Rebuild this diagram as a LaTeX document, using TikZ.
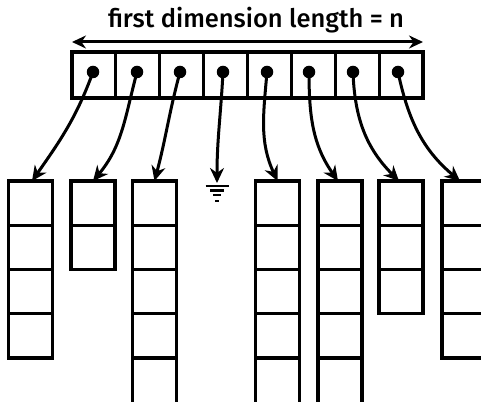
\documentclass[tikz,border=0pt]{standalone}
\usepackage{fontspec}
\setmainfont{Fira Sans}
\newfontfamily\titlefont{Fira Sans Medium}
\usetikzlibrary{arrows.meta}
\begin{document}
\begin{tikzpicture}[x=1pt,y=1pt,
  cell/.style={draw, line width=3.2pt, minimum width=44pt, minimum height=44.25pt, inner sep=0pt, outer sep=0pt},
  topcell/.style={draw, line width=3.2pt, minimum width=43.875pt, minimum height=46pt, inner sep=0pt, outer sep=0pt},
  dot/.style={circle, fill, inner sep=0pt, minimum size=12.5pt},
  ptr/.style={line width=3pt, -{Stealth[length=15pt,width=14pt]}},
  dim/.style={line width=3pt, {Stealth[length=14pt,width=13pt]}-{Stealth[length=14pt,width=13pt]}},
  openside/.style={line width=3.2pt},
  gnd/.style={line width=2.6pt}
]
\useasboundingbox (0,0) rectangle (481,401);
\clip (0,0) rectangle (481,401);

% title and dimension arrow
\node[font=\titlefont\fontsize{25.5}{30}\selectfont, anchor=base, inner sep=0pt] (title) at (256,373) {first dimension length = n};
\coordinate (al) at (72,359);
\coordinate (ar) at (423,359);
\draw[dim] (al) -- (ar);

% top array
\foreach \i/\x/\dx in {1/93.94/93, 2/137.81/137, 3/181.69/180, 4/225.56/223, 5/269.44/267, 6/313.31/309, 7/357.19/353, 8/401.06/398} {
  \node[topcell] (t\i) at (\x,326) {};
  \node[dot] (d\i) at (\dx,329) {};
}

% bottom columns
\foreach \c/\x/\n in {1/30.5/4, 2/93/2, 3/154.5/4, 5/277.5/4, 6/340/4, 7/401/3, 8/464/4} {
  \foreach \j in {1,...,\n} {
    \node[cell] (c\c-\j) at (\x,{220-22.125-(\j-1)*44.25}) {};
  }
}
% open-ended columns
\foreach \c in {3,5,6} {
  \draw[openside] (c\c-4.south west) -- ++(0,-60);
  \draw[openside] (c\c-4.south east) -- ++(0,-60);
}

% ground (null pointer)
\coordinate (g) at (217,218);
\coordinate (g1) at (217,215);
\draw[gnd] ([xshift=-11.5pt]g1) -- ([xshift=11.5pt]g1);
\draw[gnd] ([xshift=-7pt,yshift=-4.5pt]g1) -- ([xshift=7pt,yshift=-4.5pt]g1);
\draw[gnd] ([xshift=-4pt,yshift=-9pt]g1) -- ([xshift=4pt,yshift=-9pt]g1);
\draw[gnd] ([xshift=-1.8pt,yshift=-15pt]g1) -- ([xshift=1.8pt,yshift=-15pt]g1);

% pointers
\draw[ptr] (d1.center) to[out=-110, in=55] ([xshift=1.5pt]c1-1.north);
\draw[ptr] (d2.center) to[out=-105, in=50] (c2-1.north);
\draw[ptr] (d3.center) to[out=-105, in=75] (c3-1.north);
\draw[ptr] (d4.center) to[out=-93, in=90] (g);
\draw[ptr] (d5.center) to[out=-95, in=115] (c5-1.north);
\draw[ptr] (d6.center) to[out=-90, in=125] ([xshift=-2pt]c6-1.north);
\draw[ptr] (d7.center) to[out=-88, in=135] ([xshift=-2pt]c7-1.north);
\draw[ptr] (d8.center) to[out=-78, in=140] ([xshift=-4pt]c8-1.north);
\end{tikzpicture}
\end{document}
